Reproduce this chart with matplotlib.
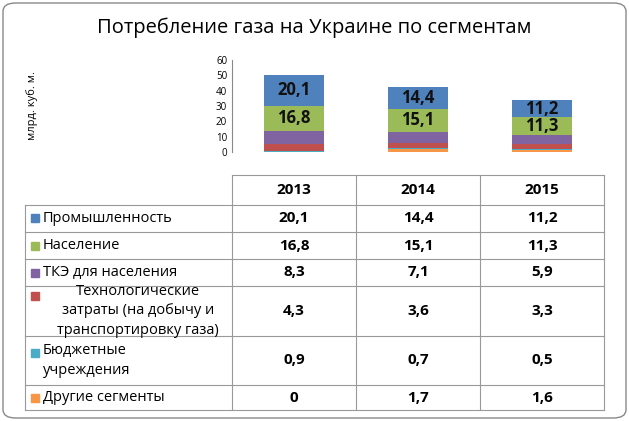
import matplotlib
matplotlib.use("Agg")
import matplotlib.pyplot as plt
from matplotlib.patches import FancyBboxPatch, Rectangle

years = ["2013", "2014", "2015"]
segments = ["Промышленность", "Население", "ТКЭ для населения",
            "Технологические\nзатраты (на добычу и\nтранспортировку газа)",
            "Бюджетные\nучреждения", "Другие сегменты"]
industry = [20.1, 14.4, 11.2]
population = [16.8, 15.1, 11.3]
tke = [8.3, 7.1, 5.9]
tech = [4.3, 3.6, 3.3]
budget = [0.9, 0.7, 0.5]
other = [0, 1.7, 1.6]
series = [industry, population, tke, tech, budget, other]
colors = ["#4F81BD", "#9BBB59", "#8064A2", "#C0504D", "#4BACC6", "#F79646"]
yticks = [0, 10, 20, 30, 40, 50, 60]

plt.rcParams["font.family"] = "Open Sans"
W, H = 629, 421
fig = plt.figure(figsize=(W/100, H/100), dpi=100)
fig.patches.append(FancyBboxPatch((3/W, 3/H), 1-6/W, 1-6/H, boxstyle="round,pad=0,rounding_size=0.02",
                                  transform=fig.transFigure, fill=False, ec="#888888", lw=1))
fig.text(0.5, 1-28/H, "Потребление газа на Украине по сегментам", ha="center", va="center", fontsize=14.5)

x0, x1 = 232, 604
ax = fig.add_axes([x0/W, 1-152/H, (x1-x0)/W, 92/H])
xs = [0, 1, 2]
bottom = [0, 0, 0]
for s, c in reversed(list(zip(series, colors))):
    ax.bar(xs, s, 0.48, bottom=bottom, color=c)
    if s is industry or s is population:
        for i in xs:
            ax.text(i, bottom[i] + s[i]/2, str(s[i]).replace(".", ","), ha="center", va="center",
                    fontsize=12, fontweight="bold", color="#111111")
    bottom = [b + v for b, v in zip(bottom, s)]
ax.set_xlim(-0.5, 2.5)
ax.set_ylim(0, 60)
ax.set_yticks(yticks)
ax.tick_params(axis="y", labelsize=7, length=0)
ax.set_xticks([])
for sp in ["top", "right", "bottom"]:
    ax.spines[sp].set_visible(False)
ax.spines["left"].set_color("#888888")
fig.text(32/W, 1-105/H, "млрд. куб. м.", rotation=90, ha="center", va="center", fontsize=8)

# table
rows = [175, 205, 232, 259, 286, 336, 385, 410]
cols = [25, 232, 356, 480, 604]
lc = "#999999"
for y in rows[1:]:
    fig.add_artist(plt.Line2D([cols[0]/W, cols[-1]/W], [1-y/H]*2, color=lc, lw=0.8))
fig.add_artist(plt.Line2D([cols[1]/W, cols[-1]/W], [1-rows[0]/H]*2, color=lc, lw=0.8))
for i, x in enumerate(cols):
    top = rows[0] if i > 0 else rows[1]
    fig.add_artist(plt.Line2D([x/W]*2, [1-top/H, 1-rows[-1]/H], color=lc, lw=0.8))
for j, yr in enumerate(years):
    fig.text((cols[j+1]+cols[j+2])/2/W, 1-(rows[0]+rows[1])/2/H, yr, ha="center", va="center",
             fontsize=11, fontweight="bold")
for r, (name, s, c) in enumerate(zip(segments, series, colors)):
    yc = 1-(rows[r+1]+rows[r+2])/2/H
    nl = name.count("\n") + 1
    my = yc + (7.5*(nl-1))/H - 4/H
    fig.patches.append(Rectangle((31/W, my), 8/W, 8/H, transform=fig.transFigure, color=c))
    if r == 3:
        fig.text(138/W, yc, name, ha="center", va="center", fontsize=10.5, linespacing=1.45)
    else:
        fig.text(43/W, yc, name, ha="left", va="center", fontsize=10.5, linespacing=1.45)
    for j, v in enumerate(s):
        fig.text((cols[j+1]+cols[j+2])/2/W, yc, f"{v:g}".replace(".", ","), ha="center",
                 va="center", fontsize=11, fontweight="bold")

fig.savefig("out.png", dpi=100)
